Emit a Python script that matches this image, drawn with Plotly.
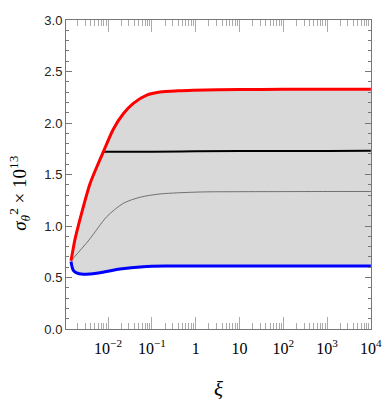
import numpy as np
import plotly.graph_objects as go

# log10(xi) positions and values
red_logx = [-2.846, -2.80, -2.755, -2.60, -2.412, -2.25, -2.108, -1.88, -1.652, -1.423, -1.117, -0.814, -0.40, -0.06, 1.0, 2.0, 3.0, 4.0]
red_y    = [0.663, 0.77, 0.87, 1.13, 1.41, 1.58, 1.72, 1.94, 2.09, 2.19, 2.27, 2.30, 2.312, 2.317, 2.325, 2.327, 2.327, 2.327]

blue_logx = [-2.846, -2.82, -2.793, -2.732, -2.565, -2.40, -2.184, -1.727, -1.195, -0.60, -0.06, 1.0, 2.0, 3.0, 4.0]
blue_y    = [0.655, 0.60, 0.57, 0.548, 0.531, 0.535, 0.547, 0.583, 0.605, 0.611, 0.612, 0.612, 0.612, 0.612, 0.612]

thin_logx = [-2.846, -2.435, -2.03, -1.652, -1.27, -0.814, 0.10, 1.0, 2.0, 3.0, 4.0]
thin_y    = [0.663, 0.864, 1.09, 1.22, 1.279, 1.311, 1.33, 1.333, 1.334, 1.335, 1.335]

black_logx = [-2.108, -1.0, 0.0, 1.0, 2.0, 3.0, 4.0]
black_y    = [1.72, 1.722, 1.725, 1.727, 1.728, 1.729, 1.73]

xtick_vals = [1e-2, 1e-1, 1, 10, 1e2, 1e3, 1e4]
xtick_text = ["10<sup>−2</sup>", "10<sup>−1</sup>", "1", "10", "10<sup>2</sup>", "10<sup>3</sup>", "10<sup>4</sup>"]
xminor_vals = [m * 10.0 ** d for d in range(-3, 4) for m in range(2, 10)]
ytick_vals = [0.0, 0.5, 1.0, 1.5, 2.0, 2.5, 3.0]
ytick_text = ["0.0", "0.5", "1.0", "1.5", "2.0", "2.5", "3.0"]

def px(lx):
    return [10 ** v for v in lx]

fig = go.Figure()
# fill region between blue and red
fig.add_trace(go.Scatter(x=px(blue_logx), y=blue_y, mode="lines",
                         line=dict(width=0, shape="spline", smoothing=0.8, color="rgba(0,0,0,0)"),
                         showlegend=False, hoverinfo="skip"))
fig.add_trace(go.Scatter(x=px(red_logx), y=red_y, mode="lines", fill="tonexty",
                         fillcolor="#d9d9d9",
                         line=dict(width=0, shape="spline", smoothing=0.8, color="rgba(0,0,0,0)"),
                         showlegend=False, hoverinfo="skip"))
fig.add_trace(go.Scatter(x=px(thin_logx), y=thin_y, mode="lines",
                         line=dict(width=0.8, color="#555555", shape="spline", smoothing=0.8), showlegend=False))
fig.add_trace(go.Scatter(x=px(black_logx), y=black_y, mode="lines",
                         line=dict(width=2, color="black", shape="spline"), showlegend=False))
fig.add_trace(go.Scatter(x=px(red_logx), y=red_y, mode="lines",
                         line=dict(width=3, color="#ff0000", shape="spline", smoothing=0.8), showlegend=False))
fig.add_trace(go.Scatter(x=px(blue_logx), y=blue_y, mode="lines",
                         line=dict(width=3, color="#0000ff", shape="spline", smoothing=0.8), showlegend=False))

fig.update_layout(
    width=382, height=401,
    margin=dict(l=66, r=11, t=20, b=72),
    paper_bgcolor="white", plot_bgcolor="white",
    xaxis=dict(type="log", range=[-2.96, 4.003], showgrid=False, zeroline=False, automargin=False,
               showline=True, linecolor="#777777", linewidth=1, mirror="allticks",
               ticks="inside", ticklen=12, tickcolor="#aaaaaa", tickwidth=1,
               tickmode="array", tickvals=xtick_vals, ticktext=xtick_text,
               ticklabeloverflow="allow", ticklabelstandoff=5,
               tickfont=dict(family="Liberation Serif", size=16, color="black"),
               minor=dict(ticks="inside", ticklen=6, tickcolor="#aaaaaa", showgrid=False,
                          tickmode="array", tickvals=xminor_vals),
               title=dict(text="<i>ξ</i>", font=dict(family="Liberation Serif", size=21, color="black"),
                          standoff=28)),
    yaxis=dict(range=[0, 3.0], showgrid=False, zeroline=False, automargin=False,
               showline=True, linecolor="#777777", linewidth=1, mirror="allticks",
               ticks="inside", ticklen=6, tickcolor="#777777", tickwidth=1,
               tickvals=ytick_vals, ticktext=ytick_text,
               tickfont=dict(family="Liberation Sans", size=13, color="#222222"),
               minor=dict(ticks="inside", ticklen=3, tickcolor="#777777", dtick=0.1, showgrid=False)),
    annotations=[dict(text="<i>σ</i><sub><i>θ</i></sub><sup>2</sup> × 10<sup>13</sup>",
                      xref="paper", yref="paper", x=-0.155, y=0.44, xanchor="center", yanchor="middle",
                      textangle=-90, showarrow=False,
                      font=dict(family="Liberation Serif", size=19, color="black"))],
)

fig.write_html("out.html", config={"displayModeBar": False},
               post_script="document.body.style.margin='0';document.body.style.padding='0';"
                           "document.documentElement.style.overflow='hidden';")
